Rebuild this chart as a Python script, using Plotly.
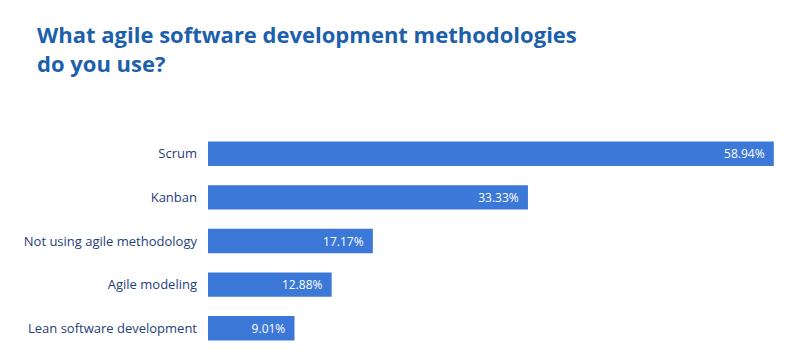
import plotly.graph_objects as go

categories = ["Scrum", "Kanban", "Not using agile methodology", "Agile modeling", "Lean software development"]
values = [58.94, 33.33, 17.17, 12.88, 9.01]
labels = ["58.94%", "33.33%", "17.17%", "12.88%", "9.01%"]

fig = go.Figure(go.Bar(
    x=values, y=categories, orientation="h",
    marker=dict(color="#3c78d8", line=dict(width=0)),
    text=[l + "\u00a0\u00a0" for l in labels],
    textposition="inside", insidetextanchor="end",
    textfont=dict(family="Open Sans", size=12, color="white"),
    hoverinfo="skip",
))

fig.update_layout(
    width=800, height=353,
    margin=dict(l=208, r=16, t=132, b=3),
    paper_bgcolor="white", plot_bgcolor="white",
    bargap=0.44,
    showlegend=False,
    font=dict(family="Open Sans", size=13, color="#24407a"),
    title=dict(
        text="<b>What agile software development methodologies<br>do you use?</b>",
        x=37/800, xanchor="left", xref="container",
        y=1-43/353, yanchor="top", yref="container",
        font=dict(family="Open Sans", size=22, color="#1c5fab"),
    ),
    xaxis=dict(range=[0, 60], visible=False, fixedrange=True),
    yaxis=dict(autorange="reversed", showgrid=False, zeroline=False, showline=False,
               ticks="", ticklabelstandoff=10, tickfont=dict(size=13, color="#24407a")),
)

fig.write_html("out.html")
